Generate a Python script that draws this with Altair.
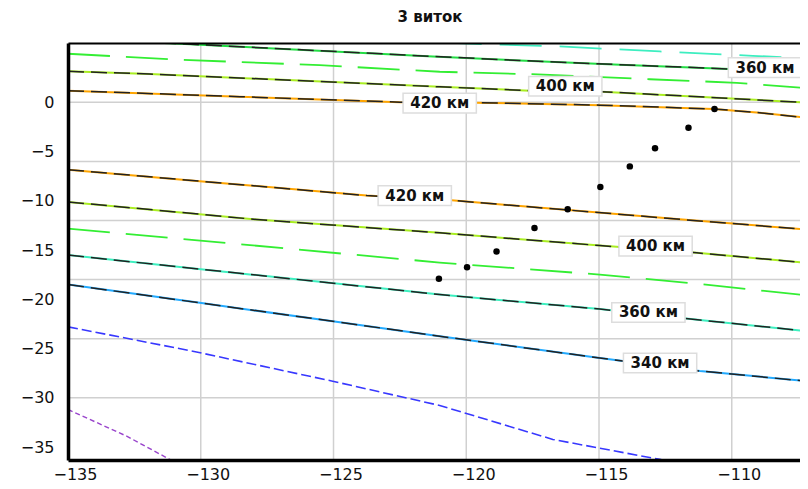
import altair as alt
import pandas as pd

title_text = "3 виток"

x_ticks = [-135, -130, -125, -120, -115, -110]
y_ticks = [-35, -30, -25, -20, -15, -10, -5, 0]
x_grid = [-130, -125, -120, -115, -110]
y_grid = [-30, -24, -18, -12, -6, 0]

# contour lines (longitude, latitude)
cyan_top_x = [-121.0, -119.87, -116.48, -112.71, -109.21, -107.0]
cyan_top_y = [6.1, 5.96, 5.68, 5.17, 4.73, 4.45]

green_a_x = [-135.0, -130.79, -125.52, -121.0, -117.53, -113.09, -109.81, -107.0]
green_a_y = [4.94, 4.33, 3.78, 3.11, 2.86, 2.35, 1.99, 1.40]

km360_top_x = [-135.0, -130.79, -121.26, -117.99, -114.22, -110.08, -107.0]
km360_top_y = [6.49, 5.96, 4.67, 4.26, 3.83, 3.39, 3.05]

km400_top_x = [-135.0, -131.92, -121.0, -117.61, -114.9, -110.38, -107.0]
km400_top_y = [3.15, 2.88, 1.58, 1.19, 1.09, 0.45, -0.05]

km420_top_x = [-135.0, -128.53, -122.51, -119.68, -114.97, -110.68, -108.95, -107.0]
km420_top_y = [1.19, 0.58, 0.02, -0.03, -0.28, -0.67, -1.05, -1.62]

km420_low_x = [-135.0, -130.04, -123.75, -120.55, -111.85, -107.0]
km420_low_y = [-6.83, -8.0, -9.47, -9.95, -11.9, -12.95]

km400_low_x = [-135.0, -127.89, -121.0, -114.97, -111.32, -107.0]
km400_low_y = [-10.11, -11.9, -13.25, -14.54, -15.28, -16.33]

green_b_x = [-135.0, -128.15, -121.0, -114.97, -111.2, -107.0]
green_b_y = [-12.82, -14.5, -16.27, -17.49, -18.45, -19.65]

km360_low_x = [-135.0, -128.15, -121.0, -114.97, -111.2, -107.0]
km360_low_y = [-15.51, -17.47, -19.52, -20.99, -22.1, -23.28]

km340_x = [-135.0, -130.04, -125.03, -121.0, -114.97, -111.2, -107.0]
km340_y = [-18.5, -20.36, -22.23, -23.75, -25.96, -27.28, -28.36]

blue_x = [-135.0, -130.3, -125.03, -121.0, -116.74, -112.71, -111.2]
blue_y = [-22.8, -25.27, -28.32, -30.78, -34.23, -36.26, -37.08]

purple_x = [-135.0, -132.79, -131.17, -130.8]
purple_y = [-31.19, -33.9, -36.26, -36.87]

# contour labels
lab_text = ["360 км", "400 км", "420 км", "420 км", "400 км", "360 км", "340 км"]
lab_x = [-108.75, -116.27, -121.0, -121.94, -112.87, -113.14, -112.70]
lab_y = [3.52, 1.64, -0.08, -9.47, -14.59, -21.34, -26.47]

# track points
dot_x = [-110.65, -111.63, -112.89, -113.84, -114.95, -116.18, -117.43, -118.86, -119.97, -121.03]
dot_y = [-0.67, -2.57, -4.67, -6.50, -8.59, -10.86, -12.75, -15.15, -16.75, -17.92]

X_DOM = [-135, -107.43]
Y_DOM = [-36.32, 6.03]
xs = alt.Scale(domain=X_DOM, nice=False, zero=False)
ys = alt.Scale(domain=Y_DOM, nice=False, zero=False)


def line_df(xv, yv):
    return pd.DataFrame({"x": xv, "y": yv, "i": list(range(len(xv)))})


def line_layer(xv, yv, color, dash, width=1.8):
    kw = dict(color=color, strokeWidth=width, clip=True)
    if dash:
        kw["strokeDash"] = dash
    return alt.Chart(line_df(xv, yv)).mark_line(**kw).encode(
        x=alt.X("x:Q", scale=xs, axis=None),
        y=alt.Y("y:Q", scale=ys, axis=None),
        order="i:Q",
    )


label_style = dict(labelFont="DejaVu Sans", labelFontSize=16, labelColor="#111", labelFlush=False)

# gridlines (with the main axes)
grid_v = alt.Chart(pd.DataFrame({"x": x_grid})).mark_rule(color="#d0d0d0", strokeWidth=1.5).encode(
    x=alt.X("x:Q", scale=xs, axis=alt.Axis(values=x_ticks, grid=False, ticks=False, title=None,
                                         domainColor="black", domainWidth=3.5, labelPadding=6,
                                         labelOffset=7, zindex=1, **label_style))
)
grid_h = alt.Chart(pd.DataFrame({"y": y_grid})).mark_rule(color="#d0d0d0", strokeWidth=1.5).encode(
    y=alt.Y("y:Q", scale=ys, axis=alt.Axis(values=y_ticks, grid=False, ticks=False, title=None,
                                         domainColor="black", domainWidth=3.5, labelPadding=14,
                                         zindex=1, **label_style))
)
# top frame line
top_frame = alt.Chart(pd.DataFrame({"x": x_grid})).mark_point(opacity=0).encode(
    x=alt.X("x:Q", scale=xs, axis=alt.Axis(orient="top", labels=False, ticks=False, grid=False,
                                         title=None, domainColor="black", domainWidth=2, zindex=1))
)

layers = [grid_v, grid_h, top_frame]

# coloured-only contours
layers.append(line_layer(cyan_top_x, cyan_top_y, "#3deec0", [42, 18]))
layers.append(line_layer(green_a_x, green_a_y, "#33ee33", [42, 16]))
layers.append(line_layer(green_b_x, green_b_y, "#33ee33", [42, 16]))
layers.append(line_layer(blue_x, blue_y, "#3838ff", [10, 4], 1.6))
layers.append(line_layer(purple_x, purple_y, "#9944cc", [5, 3], 1.4))

# coloured contours with black dashed overlay
paired = [
    (km360_top_x, km360_top_y, "#22dd44"),
    (km400_top_x, km400_top_y, "#aaee22"),
    (km420_top_x, km420_top_y, "#ffa500"),
    (km420_low_x, km420_low_y, "#ffa500"),
    (km400_low_x, km400_low_y, "#aaee22"),
    (km360_low_x, km360_low_y, "#3df0c0"),
    (km340_x, km340_y, "#22aaff"),
]
for xv, yv, c in paired:
    layers.append(line_layer(xv, yv, c, None, 2.0))
for xv, yv, c in paired:
    layers.append(line_layer(xv, yv, "#222222", [16, 7], 1.5))

# label boxes and texts
lab_df = pd.DataFrame({"t": lab_text, "x": lab_x, "y": lab_y})
boxes = alt.Chart(lab_df).transform_calculate(
    x1="datum.x - 1.38", x2="datum.x + 1.38", y1="datum.y - 1.0", y2="datum.y + 1.0"
).mark_rect(fill="white", stroke="#dddddd", strokeWidth=1.5, clip=True).encode(
    x=alt.X("x1:Q", scale=xs, axis=None), x2="x2:Q",
    y=alt.Y("y1:Q", scale=ys, axis=None), y2="y2:Q",
)
texts = alt.Chart(lab_df).mark_text(
    font="DejaVu Sans", fontWeight="bold", fontSize=15, color="#111", align="center", baseline="middle"
).encode(
    x=alt.X("x:Q", scale=xs, axis=None),
    y=alt.Y("y:Q", scale=ys, axis=None),
    text="t:N",
)
layers += [boxes, texts]

dots = alt.Chart(pd.DataFrame({"x": dot_x, "y": dot_y})).mark_circle(
    color="black", size=42, opacity=1
).encode(
    x=alt.X("x:Q", scale=xs, axis=None),
    y=alt.Y("y:Q", scale=ys, axis=None),
)
layers.append(dots)

chart = alt.layer(*layers).resolve_axis(x="independent", y="independent").properties(
    width=732,
    height=417,
    title=alt.TitleParams(title_text, font="DejaVu Sans", fontSize=15, fontWeight="bold",
                          color="#111", anchor="middle", offset=17, dx=-4),
    autosize=alt.AutoSizeParams(type="none"),
    padding={"left": 60, "top": 35, "right": 0, "bottom": 28},
).configure_view(stroke=None).configure(background="white")

chart.save("out.html", embed_options={"renderer": "svg", "actions": False})
